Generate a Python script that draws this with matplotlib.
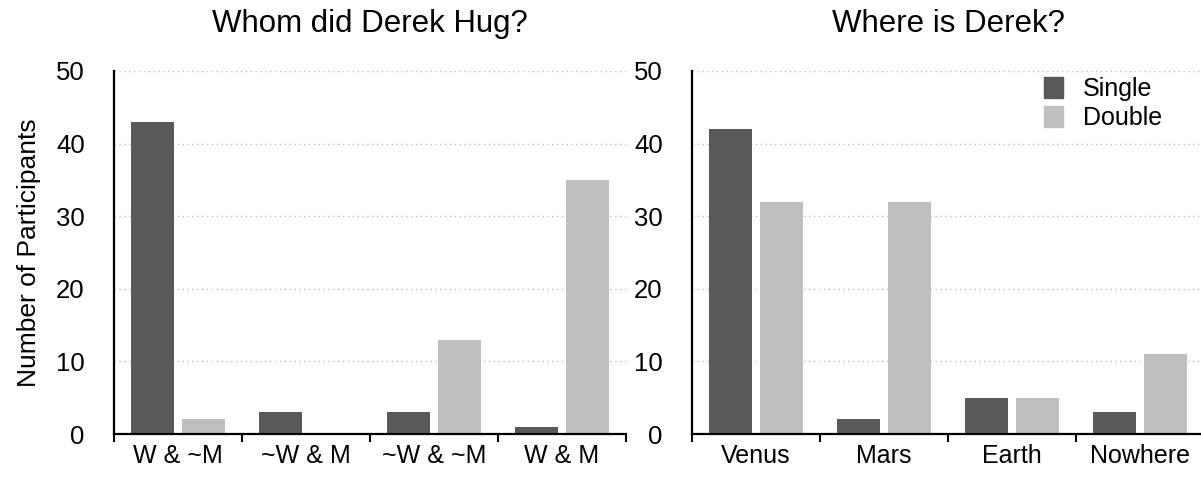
import numpy as np
import matplotlib
matplotlib.use("Agg")
import matplotlib.pyplot as plt
from matplotlib.patches import Patch

plt.rcParams['font.family'] = ['Liberation Sans', 'DejaVu Sans']

# ==================== data ====================
hug_labels = ['W & ~M', '~W & M', '~W & ~M', 'W & M']
hug_single = [43, 3, 3, 1]
hug_double = [2, 0, 13, 35]

where_labels = ['Venus', 'Mars', 'Earth', 'Nowhere']
where_single = [42, 2, 5, 3]
where_double = [32, 32, 5, 11]

titles = ['Whom did Derek Hug?', 'Where is Derek?']

DARK = '#595959'
LIGHT = '#bfbfbf'
W, H = 1201, 479

fig = plt.figure(figsize=(W / 100, H / 100), dpi=100)
ax_l = fig.add_axes([114 / W, 45 / H, 512 / W, 363 / H])
ax_r = fig.add_axes([692 / W, 45 / H, 512 / W, 363 / H])


def draw_panel(ax, labels, single, double, title):
    n = len(labels)
    centers = np.arange(n) + 0.5
    bw = 0.336
    ax.axhline(0, color=LIGHT, lw=1, zorder=1)
    ax.bar(centers - 0.2, single, width=bw, color=DARK, zorder=2)
    ax.bar(centers + 0.2, double, width=bw, color=LIGHT, zorder=2)

    ax.set_xlim(0, n)
    ax.set_ylim(0, 50)
    ax.set_yticks([0, 10, 20, 30, 40, 50])
    ax.tick_params(axis='y', length=0, pad=21, labelsize=18.5)

    # ticks on the category boundaries, labels in the middle
    ax.set_xticks(np.arange(n + 1))
    ax.set_xticklabels([])
    ax.set_xticks(centers, minor=True)
    ax.set_xticklabels(labels, minor=True)
    ax.tick_params(axis='x', which='major', length=6, width=1.5, direction='out')
    ax.tick_params(axis='x', which='minor', length=0, pad=7, labelsize=18)

    for g in [10, 20, 30, 40, 50]:
        ax.axhline(g, color='#bdbdbd', lw=1, ls=(0, (1, 2.5)), zorder=0)

    for s in ['top', 'right']:
        ax.spines[s].set_visible(False)
    for s in ['left', 'bottom']:
        ax.spines[s].set_linewidth(1.6)
    ax.set_title(title, fontsize=22.5, pad=28)


draw_panel(ax_l, hug_labels, hug_single, hug_double, titles[0])
draw_panel(ax_r, where_labels, where_single, where_double, titles[1])

ax_l.set_ylabel('Number of Participants', fontsize=19, labelpad=11)

handles = [Patch(color=DARK, label='Single'), Patch(color=LIGHT, label='Double')]
ax_r.legend(handles=handles, loc='upper right', bbox_to_anchor=(0.962, 1.045),
            frameon=False, fontsize=18, handlelength=0.75, handleheight=0.9,
            handletextpad=0.8, labelspacing=0.2)

fig.savefig('out.png', dpi=100)
